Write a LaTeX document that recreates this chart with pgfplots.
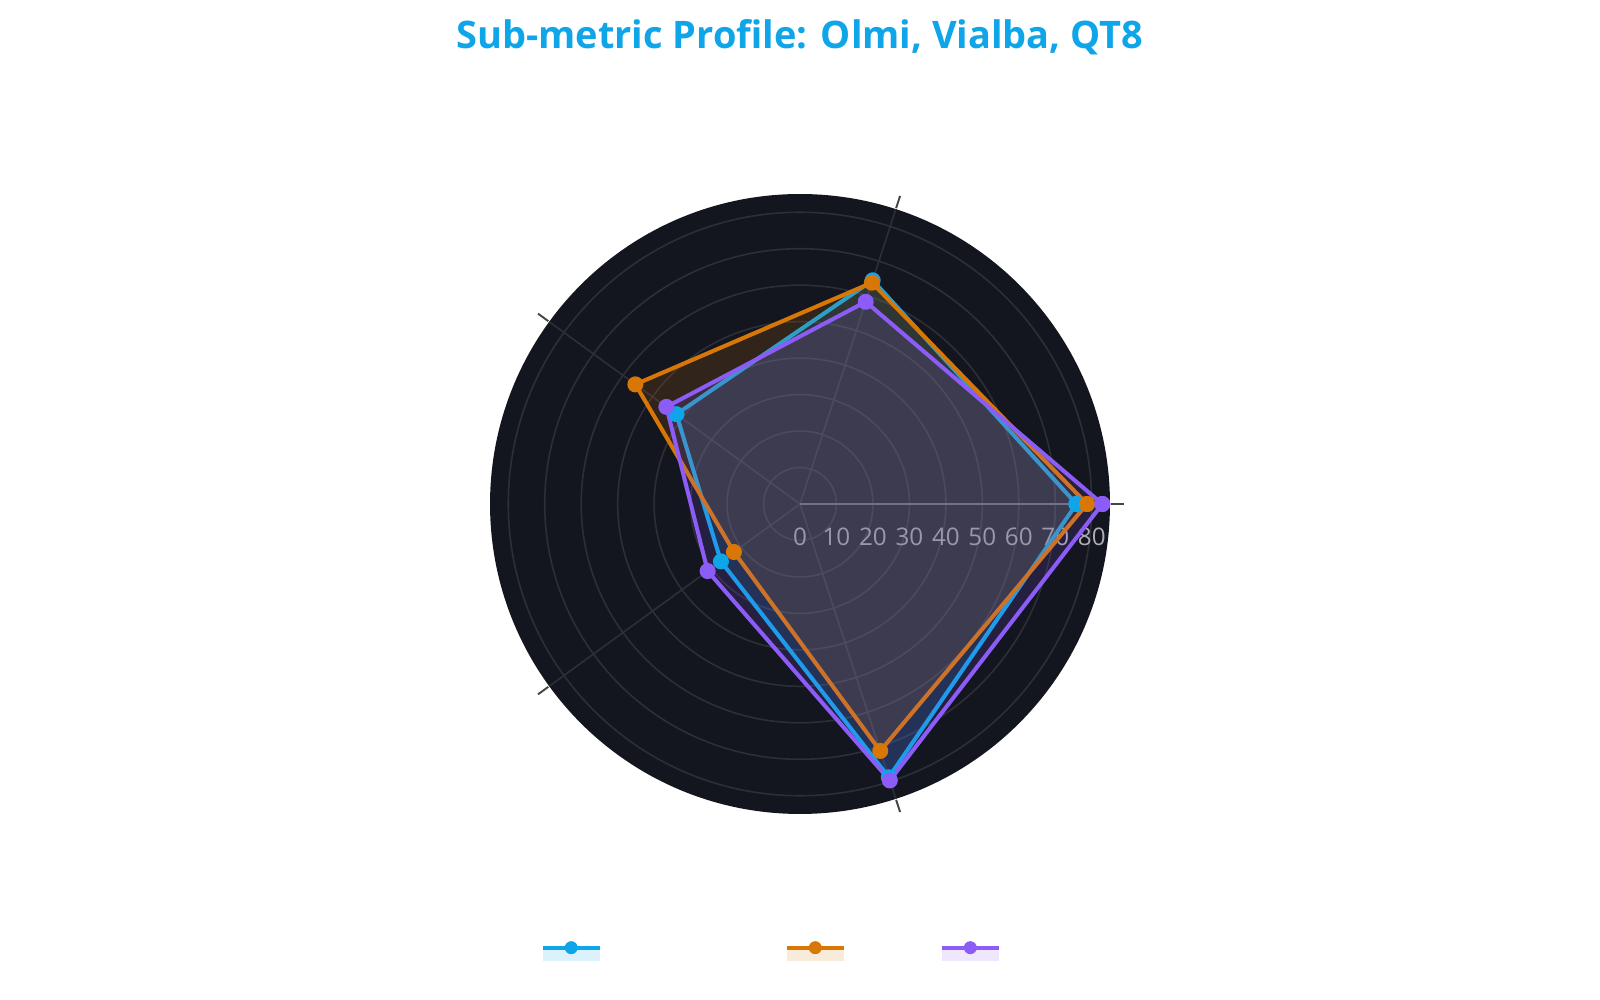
\documentclass[border=0pt]{standalone}
\usepackage{pgfplots}
\pgfplotsset{compat=1.18}
\usepgfplotslibrary{polar}
\usepackage{fontspec}
\setmainfont{Open Sans}
\definecolor{bg}{RGB}{20,22,31}
\definecolor{gridc}{RGB}{44,46,56}
\definecolor{cblue}{RGB}{14,165,233}
\definecolor{corange}{RGB}{217,119,6}
\definecolor{cpurple}{RGB}{139,92,246}
\definecolor{ticklab}{RGB}{172,172,182}
\definecolor{tickc}{RGB}{70,70,74}

\begin{document}
\begin{tikzpicture}
\path[use as bounding box] (0,0) rectangle (16,10);
\node[text=cblue] at (8,9.63) {\resizebox{6.87cm}{!}{\bfseries Sub-metric Profile: Olmi, Vialba, QT8}};
\begin{polaraxis}[
  at={(8cm,4.96cm)}, anchor=center,
  width=6.2cm, height=6.2cm, scale only axis,
  xmin=0, xmax=360, ymin=0, ymax=85,
  clip=false,
  xtick={0,72,144,216,288}, xticklabels={},
  ytick={0,10,...,80},
  axis line style={draw=none},
  axis background/.style={fill=bg},
  xmajorgrids, ymajorgrids,
  major grid style={gridc, line width=0.45pt},
  xtick style={draw=none},
  ytick style={draw=none},
  /pgf/number format/assume math mode=true,
  yticklabel style={anchor=north, text=ticklab, font=\fontsize{6.9}{8}\selectfont, yshift=-0.12cm},
  legend columns=3,
  legend style={at={(0.0806,-0.2165)}, anchor=west, draw=none, fill=none,
    inner sep=0pt, nodes={inner sep=0pt, outer sep=0pt, text=white, font=\fontsize{7}{8}\selectfont}},
]
% radial axis line
\addplot[white, opacity=0.3, line width=0.5pt, forget plot] coordinates {(0,0) (0,85)};
% angular tick marks outside the disc
\addplot[tickc, line width=0.55pt, forget plot] coordinates {(0,85.3) (0,88.8)};
\addplot[tickc, line width=0.55pt, forget plot] coordinates {(72,85.3) (72,88.8)};
\addplot[tickc, line width=0.55pt, forget plot] coordinates {(144,85.3) (144,88.8)};
\addplot[tickc, line width=0.55pt, forget plot] coordinates {(216,85.3) (216,88.8)};
\addplot[tickc, line width=0.55pt, forget plot] coordinates {(288,85.3) (288,88.8)};

\addplot[cblue, line width=1.15pt, line join=round, fill=cblue, fill opacity=0.15,
  mark=*, mark size=1.7pt, mark options={solid, fill=cblue, fill opacity=1},
  legend image code/.code={
    \path[draw=none, fill=cblue, fill opacity=0.15] (0cm,-0.13cm) rectangle (0.57cm,0cm);
    \path[draw=cblue, fill=none, line width=1.15pt] (0cm,0cm) -- (0.57cm,0cm);
    \path[draw=none, fill=cblue, fill opacity=1] (0.285cm,0cm) circle[radius=0.065cm];}]
  coordinates {(0,75.8) (72,64.5) (144,41.9) (216,26.8) (288,78.8) (360,75.8)};
\addlegendentry{\makebox[1.83cm][l]{\hspace{0.1cm}Olmi}}

\addplot[corange, line width=1.15pt, line join=round, fill=corange, fill opacity=0.15,
  mark=*, mark size=1.7pt, mark options={solid, fill=corange, fill opacity=1},
  legend image code/.code={
    \path[draw=none, fill=corange, fill opacity=0.15] (0cm,-0.13cm) rectangle (0.57cm,0cm);
    \path[draw=corange, fill=none, line width=1.15pt] (0cm,0cm) -- (0.57cm,0cm);
    \path[draw=none, fill=corange, fill opacity=1] (0.285cm,0cm) circle[radius=0.065cm];}]
  coordinates {(0,78.7) (72,63.8) (144,55.8) (216,22.4) (288,71.2) (360,78.7)};
\addlegendentry{\makebox[0.94cm][l]{\hspace{0.1cm}Vialba}}

\addplot[cpurple, line width=1.15pt, line join=round, fill=cpurple, fill opacity=0.15,
  mark=*, mark size=1.7pt, mark options={solid, fill=cpurple, fill opacity=1},
  legend image code/.code={
    \path[draw=none, fill=cpurple, fill opacity=0.15] (0cm,-0.13cm) rectangle (0.57cm,0cm);
    \path[draw=cpurple, fill=none, line width=1.15pt] (0cm,0cm) -- (0.57cm,0cm);
    \path[draw=none, fill=cpurple, fill opacity=1] (0.285cm,0cm) circle[radius=0.065cm];}]
  coordinates {(0,82.9) (72,58.3) (144,45.3) (216,31.3) (288,79.7) (360,82.9)};
\addlegendentry{\makebox[0.9cm][l]{\hspace{0.1cm}QT8}}
\end{polaraxis}
\end{tikzpicture}
\end{document}
